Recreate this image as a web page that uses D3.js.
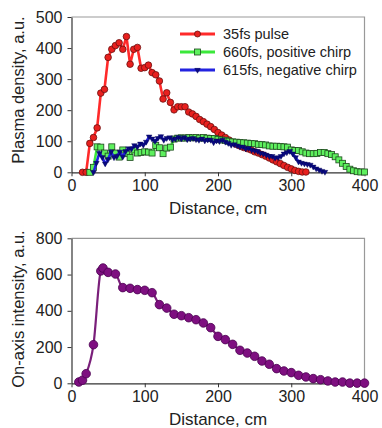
<!DOCTYPE html>
<html>
<head>
<meta charset="utf-8">
<script src="https://cdn.jsdelivr.net/npm/d3@7"></script>
<style>
  html, body { margin: 0; padding: 0; background: #fff; }
  svg { display: block; font-family: Arial, "Liberation Sans", sans-serif; }
</style>
</head>
<body>
<div id="chart"></div>
<script>
// ---- data ----
const redX = [15,20,25,30,35,40,45,50,55,60,65,70,75,80,85,90,95,100,105,110,115,120,125,130,135,140,145,150,155,160,165,170,175,180,185,190,195,200,205,210,215,220,225,230,235,240,245,250,255,260,265,270,275,280,285,290,295,300,305,310,315,320];
const redY = [0,0,93,112,143,255,267,370,396,408,417,396,437,348,396,402,335,337,345,321,314,294,236,256,225,201,211,211,211,194,188,180,170,163,155,147,138,128,120,112,104,96,90,85,80,76,72,66,62,57,52,46,40,34,28,22,16,11,6,3,1,1];

const greenX = [25,30,35,40,45,50,55,60,65,70,75,80,85,90,95,100,105,110,115,120,125,130,135,140,145,150,155,160,165,170,175,180,185,190,195,200,205,210,215,220,225,230,235,240,245,250,255,260,265,270,275,280,285,290,295,300,305,310,315,320,325,330,335,340,345,350,355,360,365,370,375,380,385,390,395,400];
const greenY = [0,16,82,81,62,52,82,62,49,72,60,48,72,62,64,66,65,62,86,79,60,78,81,107,110,111,110,112,111,112,110,112,110,109,109,106,104,103,100,98,97,96,95,94,93,92,90,89,88,85,84,84,83,82,81,72,70,70,66,62,60,60,61,64,64,60,57,50,40,29,19,10,5,2,1,1];

const blueX = [30,34,38,42,46,50,54,58,62,66,70,74,78,82,86,90,94,98,102,106,110,114,118,122,126,130,134,138,142,146,150,154,158,162,166,170,174,178,182,186,190,194,198,202,206,210,214,218,222,226,230,234,238,242,246,250,254,258,262,266,270,274,278,282,286,290,294,298,302,306,310,314,318,322,326,330,334,338,342,346];
const blueY = [0,30,62,48,28,42,66,48,52,66,50,68,77,76,87,82,92,88,98,115,108,100,110,116,104,110,112,106,108,113,108,112,106,108,110,106,104,108,102,105,104,96,102,100,104,98,94,88,90,86,82,82,76,78,72,70,68,62,60,56,52,52,46,48,52,60,64,68,60,48,34,30,28,26,24,18,12,8,4,1];

const purpleX = [10,15,20,30,40,43,50,60,70,80,90,100,110,120,130,140,150,160,170,180,190,200,210,220,230,240,250,260,270,280,290,300,310,320,330,340,350,360,370,380,390,400];
const purpleY = [7,17,53,213,620,636,612,603,528,524,517,513,500,434,415,381,373,362,351,333,307,259,241,215,182,167,149,123,105,81,68,59,44,35,26,20,13,7,7,1,1,1];

const xTicks = [0,100,200,300,400];
const topTicks = [0,100,200,300,400,500];
const bottomTicks = [0,200,400,600,800];

const legendLabels = ["35fs pulse", "660fs, positive chirp", "615fs, negative chirp"];

// ---- layout ----
const width = 382;
const height = 428;
const plotLeft = 71.5;
const plotRight = 364.5;

const svg = d3.select("#chart").append("svg")
    .attr("width", width)
    .attr("height", height)
    .attr("viewBox", [0, 0, width, height]);

svg.append("rect").attr("width", width).attr("height", height).attr("fill", "#fff");

const x = d3.scaleLinear().domain([0, 400]).range([plotLeft, plotRight]);
const yTop = d3.scaleLinear().domain([0, 500]).range([172.3, 17]);
const yBot = d3.scaleLinear().domain([0, 800]).range([383.3, 238.3]);

function zip(xs, ys) { return xs.map((v, i) => [v, ys[i]]); }

// axes + frame for one panel
function panel(y, ticks, title, titleY, xTitleY) {
    const g = svg.append("g");
    // frame (top / right in gray)
    g.append("path")
        .attr("d", `M${plotLeft},${y.range()[1]}H${plotRight}V${y.range()[0]}`)
        .attr("fill", "none")
        .attr("stroke", "#999")
        .attr("stroke-width", 1.2);

    g.append("g")
        .attr("transform", `translate(0,${y.range()[0]})`)
        .call(d3.axisBottom(x).tickValues(xTicks).tickSize(4).tickPadding(3).tickSizeOuter(0))
        .call(a => a.select(".domain").attr("stroke", "#333").attr("stroke-width", 1.2))
        .call(a => a.selectAll(".tick line").attr("stroke", "#333"))
        .call(a => a.selectAll("text").attr("font-size", 16).attr("fill", "#222").attr("font-family", "Arial, 'Liberation Sans', sans-serif"));

    g.append("g")
        .attr("transform", `translate(${plotLeft},0)`)
        .call(d3.axisLeft(y).tickValues(ticks).tickSize(4).tickPadding(5).tickSizeOuter(0))
        .call(a => a.select(".domain").attr("stroke", "#333").attr("stroke-width", 1.2))
        .call(a => a.selectAll(".tick line").attr("stroke", "#333"))
        .call(a => a.selectAll("text").attr("font-size", 16).attr("fill", "#222").attr("font-family", "Arial, 'Liberation Sans', sans-serif"));

    // axis titles
    g.append("text")
        .attr("x", 218)
        .attr("y", xTitleY)
        .attr("text-anchor", "middle")
        .attr("font-size", 17)
        .attr("fill", "#222")
        .text("Distance, cm");

    g.append("text")
        .attr("transform", `translate(24,${titleY}) rotate(-90)`)
        .attr("text-anchor", "middle")
        .attr("font-size", 16.5)
        .attr("fill", "#222")
        .text(title);
}

panel(yTop, topTicks, "Plasma density, a.u.", 90, 214);
panel(yBot, bottomTicks, "On-axis intensity, a.u.", 309, 425);

// ---- series ----
const lineTop = d3.line().x(d => x(d[0])).y(d => yTop(d[1]));

const triangle = d3.symbol().type(d3.symbolTriangle).size(14);

function drawCircles(g, data, r, fill, stroke) {
    g.selectAll("circle").data(data).join("circle")
        .attr("cx", d => x(d[0])).attr("cy", d => yTop(d[1]))
        .attr("r", r).attr("fill", fill).attr("stroke", stroke).attr("stroke-width", 0.8);
}

// red: 35fs
const red = svg.append("g");
red.append("path").datum(zip(redX, redY))
    .attr("d", lineTop).attr("fill", "none").attr("stroke", "#ff2a2a").attr("stroke-width", 2.6);
drawCircles(red, zip(redX, redY), 3.3, "#e8201e", "#6a1010");

// green: 660fs
const green = svg.append("g");
green.append("path").datum(zip(greenX, greenY))
    .attr("d", lineTop).attr("fill", "none").attr("stroke", "#3be83b").attr("stroke-width", 2.6);
green.selectAll("rect").data(zip(greenX, greenY)).join("rect")
    .attr("x", d => x(d[0]) - 3).attr("y", d => yTop(d[1]) - 3)
    .attr("width", 6).attr("height", 6)
    .attr("fill", "#5ef05e").attr("stroke", "#1e4a1e").attr("stroke-width", 0.8);

// blue: 615fs
const blue = svg.append("g");
blue.append("path").datum(zip(blueX, blueY))
    .attr("d", lineTop).attr("fill", "none").attr("stroke", "#2323e0").attr("stroke-width", 2.6);
blue.selectAll("path.m").data(zip(blueX, blueY)).join("path")
    .attr("class", "m")
    .attr("d", triangle)
    .attr("transform", d => `translate(${x(d[0])},${yTop(d[1])}) rotate(180)`)
    .attr("fill", "#0a0a80").attr("stroke", "#000050").attr("stroke-width", 0.4);

// purple: on-axis intensity
const purple = svg.append("g");
purple.append("path").datum(zip(purpleX, purpleY))
    .attr("d", d3.line().x(d => x(d[0])).y(d => yBot(d[1])).curve(d3.curveMonotoneX))
    .attr("fill", "none").attr("stroke", "#7a1f7a").attr("stroke-width", 2.2);
purple.selectAll("circle").data(zip(purpleX, purpleY)).join("circle")
    .attr("cx", d => x(d[0])).attr("cy", d => yBot(d[1]))
    .attr("r", 4.3).attr("fill", "#7e0f80").attr("stroke", "#4a0050").attr("stroke-width", 0.8);

// ---- legend ----
const legend = svg.append("g").attr("transform", "translate(180,34)");
const legendStyles = [
    { line: "#ff2a2a", kind: "circle", fill: "#e8201e", stroke: "#6a1010" },
    { line: "#3be83b", kind: "square", fill: "#5ef05e", stroke: "#1e4a1e" },
    { line: "#2323e0", kind: "tri", fill: "#0a0a80", stroke: "#000050" }
];
legendLabels.forEach((label, i) => {
    const s = legendStyles[i];
    const item = legend.append("g").attr("transform", `translate(0,${i * 18})`);
    item.append("line").attr("x1", 0).attr("x2", 35).attr("y1", 0).attr("y2", 0)
        .attr("stroke", s.line).attr("stroke-width", 3.2);
    if (s.kind === "circle") {
        item.append("circle").attr("cx", 17.5).attr("cy", 0).attr("r", 3)
            .attr("fill", s.fill).attr("stroke", s.stroke).attr("stroke-width", 0.8);
    } else if (s.kind === "square") {
        item.append("rect").attr("x", 14.5).attr("y", -3).attr("width", 6).attr("height", 6)
            .attr("fill", s.fill).attr("stroke", s.stroke).attr("stroke-width", 0.8);
    } else {
        item.append("path").attr("d", triangle)
            .attr("transform", "translate(17.5,0) rotate(180)")
            .attr("fill", s.fill).attr("stroke", s.stroke).attr("stroke-width", 0.4);
    }
    item.append("text").attr("x", 43).attr("y", 5)
        .attr("font-size", 14.5).attr("fill", "#222")
        .text(label);
});
</script>
</body>
</html>
